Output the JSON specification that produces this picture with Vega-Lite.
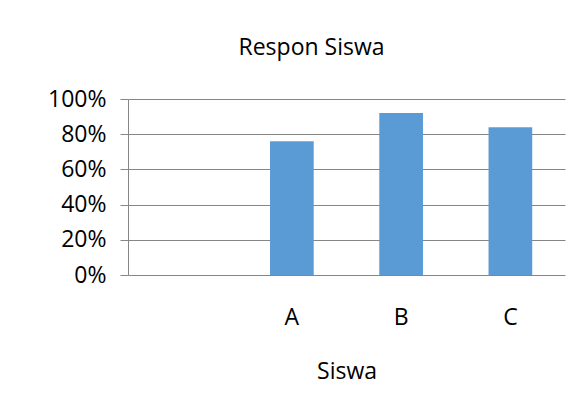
{
  "$schema": "https://vega.github.io/schema/vega-lite/v6.json",
  "autosize": "none",
  "padding": {"left": 128, "top": 99, "right": 19, "bottom": 137},
  "width": 437,
  "height": 176,
  "background": "white",
  "title": {"text": "Respon Siswa", "font": "Open Sans", "fontSize": 23, "fontWeight": "normal", "color": "#000000", "anchor": "middle", "dx": -35, "offset": 28},
  "data": {"values": [
    {"siswa": " ", "respon": null},
    {"siswa": "A", "respon": 0.76},
    {"siswa": "B", "respon": 0.92},
    {"siswa": "C", "respon": 0.84}
  ]},
  "mark": {"type": "bar", "color": "#5B9BD5"},
  "encoding": {
    "x": {"field": "siswa", "type": "nominal", "title": "Siswa",
      "scale": {"domain": [" ", "A", "B", "C"], "paddingInner": 0.6, "paddingOuter": 0.3},
      "axis": {"labelAngle": 0, "ticks": false, "domain": false, "labelFont": "Open Sans", "labelFontSize": 23, "labelColor": "#000000", "labelPadding": 31, "titleFont": "Open Sans", "titleFontSize": 23, "titleFontWeight": "normal", "titleColor": "#000000", "titlePadding": 31}},
    "y": {"field": "respon", "type": "quantitative", "title": null,
      "scale": {"domain": [0, 1], "nice": false},
      "axis": {"values": [0, 0.2, 0.4, 0.6, 0.8, 1], "format": ".0%", "gridColor": "#868686", "gridWidth": 1, "domainColor": "#868686", "tickColor": "#868686", "tickSize": 8, "labelFont": "Open Sans", "labelFontSize": 23, "labelColor": "#000000", "labelPadding": 14}}
  },
  "config": {"view": {"stroke": null}, "axisX": {"grid": false}}
}
